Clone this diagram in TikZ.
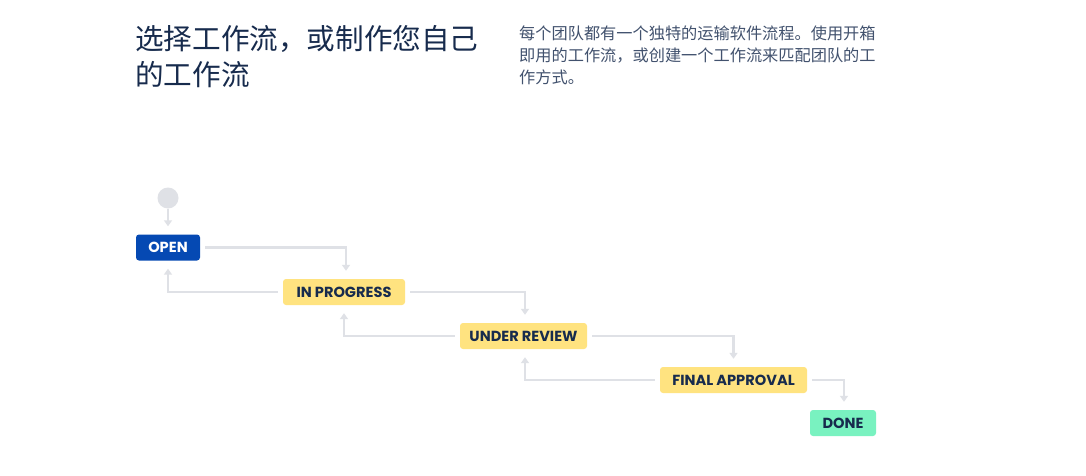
\documentclass[tikz,border=0pt]{standalone}
\usepackage{fontspec}
\usepackage{xcolor}
\usepackage{tikz}
\usetikzlibrary{arrows.meta,positioning}
\newfontfamily\cjk{Noto Sans CJK SC}
\newfontfamily\lblfont{Poppins}
\definecolor{navy}{HTML}{172B4D}
\definecolor{slate}{HTML}{42526E}
\definecolor{openblue}{HTML}{0549B3}
\definecolor{progyellow}{HTML}{FFE380}
\definecolor{donegreen}{HTML}{79F2C0}
\definecolor{linegray}{HTML}{DFE1E6}
\begin{document}
\begin{tikzpicture}[x=1pt,y=-1pt,>={Triangle[width=8pt,length=6pt]},
  state/.style={rounded corners=3pt,inner sep=0pt,minimum height=26pt,text=navy,
    font=\lblfont\bfseries\fontsize{14.6}{14.6}\selectfont},
  flow/.style={draw=linegray,line width=2.5pt,->,shorten <=5pt,shorten >=8pt}]
  \useasboundingbox[fill=white] (0,0) rectangle (1086,476);
  \node[anchor=north west,align=left,inner sep=0pt,text=navy,
    font=\cjk\fontsize{28.6}{36}\selectfont] (title) at (135,25.5) {选择工作流，或制作您自己\\的工作流};
  \node[anchor=north west,align=left,inner sep=0pt,text=slate,
    font=\cjk\fontsize{16.2}{22}\selectfont] (intro) at (519,26) {每个团队都有一个独特的运输软件流程。使用开箱\\即用的工作流，或创建一个工作流来匹配团队的工\\作方式。};
  \node[circle,fill=linegray,minimum size=21pt,inner sep=0pt] (start) at (168,198) {};
  \node[state,fill=openblue,text=white,minimum width=64pt] (open) at (168,247.5) {OPEN};
  \node[state,fill=progyellow,minimum width=122pt] (prog) at (344,292) {IN PROGRESS};
  \node[state,fill=progyellow,minimum width=127pt] (review) at (523.5,336) {UNDER REVIEW};
  \node[state,fill=progyellow,minimum width=147pt] (final) at (733.5,380) {FINAL APPROVAL};
  \node[state,fill=donegreen,minimum width=66pt] (done) at (843,423) {DONE};
  \draw[flow,shorten <=0pt] (start) -- (open);
  \draw[flow] (open.east) -| ([xshift=2pt]prog.north);
  \draw[flow] (prog.west) -| (open.south);
  \draw[flow] (prog.east) -| ([xshift=1.5pt]review.north);
  \draw[flow] (review.west) -| (prog.south);
  \draw[flow] (review.east) -| (final.north);
  \draw[flow] (final.west) -| ([xshift=1.5pt]review.south);
  \draw[flow] (final.east) -| ([xshift=1pt]done.north);
\end{tikzpicture}
\end{document}
